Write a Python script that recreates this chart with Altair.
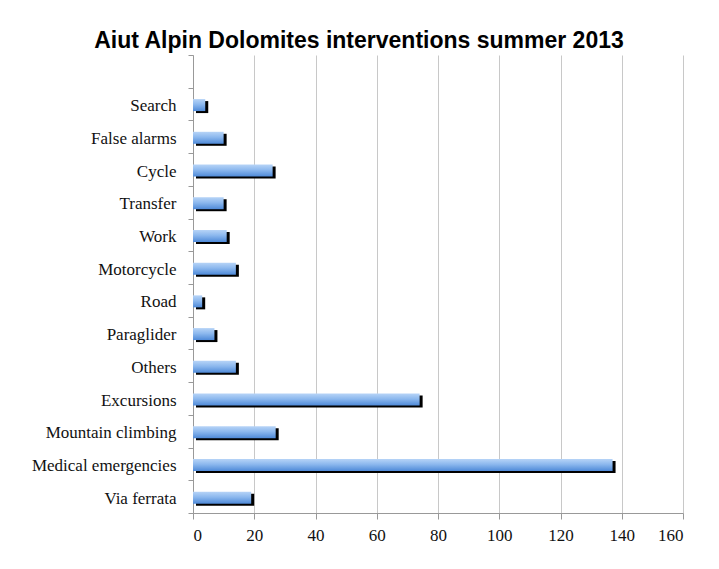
import altair as alt
import pandas as pd

categories = ["Search", "False alarms", "Cycle", "Transfer", "Work", "Motorcycle",
              "Road", "Paraglider", "Others", "Excursions", "Mountain climbing",
              "Medical emergencies", "Via ferrata"]
values = [4, 10, 26, 10, 11, 14, 3, 7, 14, 74, 27, 137, 19]
x_ticks = [0, 20, 40, 60, 80, 100, 120, 140, 160]
title_text = "Aiut Alpin Dolomites interventions summer 2013"

df = pd.DataFrame({"category": categories, "value": values})
domain = [" "] + categories

y_enc = alt.Y("category:N", scale=alt.Scale(domain=domain, paddingInner=0, paddingOuter=0),
              axis=alt.Axis(title=None, tickBand="extent", labelFont="Liberation Serif",
                            labelFontSize=17, labelColor="#111", labelPadding=12,
                            labelOffset=1.5,
                            tickSize=5, tickColor="#999", domainColor="#999", grid=False))
x_enc = alt.X("value:Q", scale=alt.Scale(domain=[0, 160], nice=False),
              axis=alt.Axis(title=None, values=x_ticks, labelFont="Liberation Serif",
                            labelFontSize=17, labelColor="#111", labelPadding=8,
                            tickSize=6, tickColor="#999", domainColor="#999",
                            grid=True, gridColor="#c8c8c8", gridWidth=1))

shadow = alt.Chart(df).mark_bar(color="black", height=12, xOffset=3, x2Offset=3,
                                yOffset=3, y2Offset=3).encode(x=x_enc, y=y_enc)
grad = alt.Gradient(gradient="linear", x1=0, x2=0, y1=0, y2=1,
                    stops=[alt.GradientStop(color="#b7d4f7", offset=0),
                           alt.GradientStop(color="#8cb8ee", offset=0.45),
                           alt.GradientStop(color="#4f8ad8", offset=1)])
bars = alt.Chart(df).mark_bar(color=grad, height=12, yOffset=1).encode(x=x_enc, y=y_enc)

chart = alt.layer(shadow, bars).properties(
    width=490, height=458,
    autosize=alt.AutoSizeParams(type="none"),
    padding={"left": 185, "top": 47, "right": 20, "bottom": 40},
    title=alt.TitleParams(title_text, font="Liberation Sans", fontSize=23, fontWeight="bold",
                          color="#000", anchor="middle", frame="group", dx=-79, dy=31,
                          offset=6, baseline="alphabetic"),
).configure_view(stroke=None)

chart.save("out.html", embed_options={"renderer": "svg", "actions": False})
